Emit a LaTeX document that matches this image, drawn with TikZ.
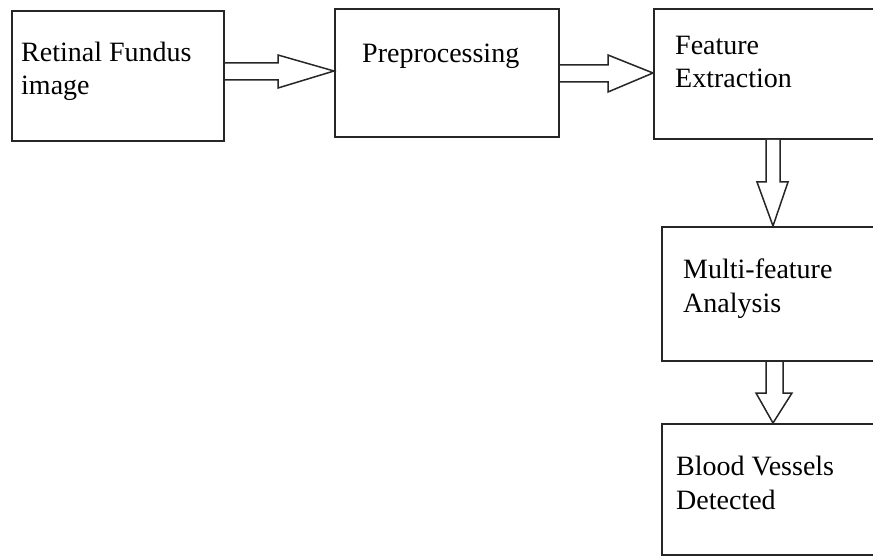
\documentclass[tikz,border=0pt]{standalone}
\usepackage{fontspec}
\setmainfont{Liberation Serif}
\begin{document}
\begin{tikzpicture}[x=1pt,y=-1pt,
  box/.style={draw=black!85,line width=2pt,inner sep=0pt,rectangle},
  lbl/.style={inner sep=0pt,anchor=base west,font=\fontsize{28}{33}\selectfont,text=black},
  barrow/.style={draw=black!85,line width=1.5pt,line join=miter,fill=white}]
\useasboundingbox (0,0) rectangle (873,556);
\fill[white] (0,0) rectangle (873,556);
\clip (0,0) rectangle (873,556);
% boxes
\node[box,minimum width=212pt,minimum height=130pt] (b1) at (118,76) {};
\node[box,minimum width=224pt,minimum height=128pt] (b2) at (447,73) {};
\node[box,minimum width=246pt,minimum height=130pt] (b3) at (777,74) {};
\node[box,minimum width=238pt,minimum height=134pt] (b4) at (781,294) {};
\node[box,minimum width=238pt,minimum height=131pt] (b5) at (781,489.5) {};
% labels
\node[lbl] (t1a) at (21,62) {Retinal Fundus};
\node[lbl] (t1b) at (21,95) {image};
\node[lbl] (t2) at (362,63) {Preprocessing};
\node[lbl] (t3a) at (675,55) {Feature};
\node[lbl] (t3b) at (675,88) {Extraction};
\node[lbl] (t4a) at (683,278) {Multi-feature};
\node[lbl] (t4b) at (683,312) {Analysis};
\node[lbl] (t5a) at (676,475) {Blood Vessels};
\node[lbl] (t5b) at (676,509) {Detected};
% block arrows
\draw[barrow] (b1.east |- 0,63) -- (278,63) -- (278,55) -- (b2.west |- 0,71)
  -- (278,88) -- (278,80) -- (b1.east |- 0,80);
\draw[barrow] (b2.east |- 0,65) -- (608,65) -- (608,55) -- (b3.west |- 0,73)
  -- (608,92) -- (608,82) -- (b2.east |- 0,82);
\draw[barrow] (766,0 |- b3.south) -- (766,182) -- (757,182) -- (773,0 |- b4.north)
  -- (788,182) -- (780,182) -- (780,0 |- b3.south);
\draw[barrow] (766,0 |- b4.south) -- (766,393) -- (756,393) -- (773,0 |- b5.north)
  -- (792,393) -- (783,393) -- (783,0 |- b4.south);
\end{tikzpicture}
\end{document}
